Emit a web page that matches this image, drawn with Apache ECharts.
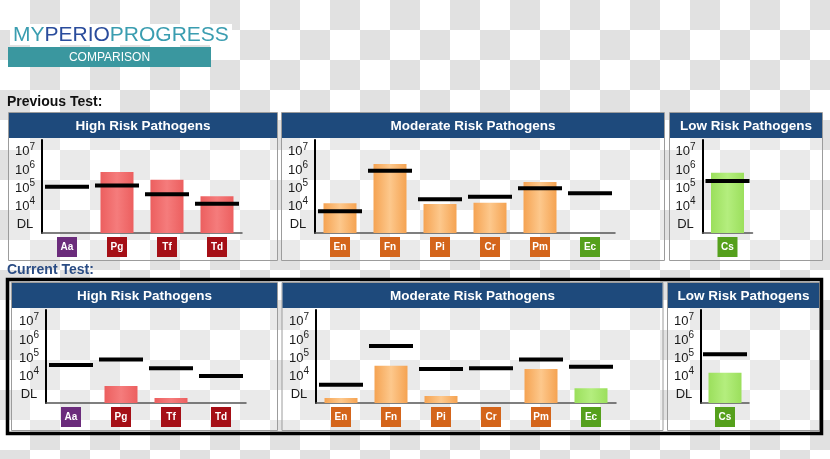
<!DOCTYPE html>
<html><head><meta charset="utf-8">
<script src="https://cdn.jsdelivr.net/npm/echarts@6/dist/echarts.min.js"></script>
<style>
html,body{margin:0;padding:0;}
#c{width:830px;height:459px;background:repeating-conic-gradient(#e1e1e1 0 25%, #ffffff 0 50%) 0 0/60px 60px;}
</style></head><body><div id="c"></div>
<script>
// ---- data ----
const highCats = ['Aa','Pg','Tf','Td'];
const modCats = ['En','Fn','Pi','Cr','Pm','Ec'];
const lowCats = ['Cs'];
const yTickValues = [3,4,5,6,7];
const yTickBase = ['DL','10','10','10','10'];
const yTickExp = ['','4','5','6','7'];
const panelTitles = ['High Risk Pathogens','Moderate Risk Pathogens','Low Risk Pathogens'];
// previous test (log10 counts; bars = measured, lines = reference levels)
const prevHighBars = [null,5.89,5.47,4.56];
const prevHighLines = [5.09,5.16,4.67,4.16];
const prevModBars = [4.18,6.33,4.14,4.21,5.34,null];
const prevModLines = [3.74,5.96,4.40,4.54,5.00,4.73];
const prevLowBars = [5.85];
const prevLowLines = [5.40];
// current test
const curHighBars = [null,3.48,2.82,null];
const curHighLines = [4.63,4.94,4.45,4.03];
const curModBars = [2.82,4.59,2.93,null,4.41,3.36];
const curModLines = [3.55,5.67,4.41,4.45,4.94,4.54];
const curLowBars = [4.21];
const curLowLines = [5.22];

// ---- styles ----
const FONT = "'Liberation Sans', Arial, Helvetica, sans-serif";
const labelBg = {Aa:'#6b2c7c',Pg:'#a50f16',Tf:'#a50f16',Td:'#a50f16',En:'#d4651b',Fn:'#d4651b',Pi:'#d4651b',Cr:'#d4651b',Pm:'#d4651b',Ec:'#55a01c',Cs:'#55a01c'};
function grad(a,b){return new echarts.graphic.LinearGradient(0,0,1,0,[{offset:0,color:a},{offset:0.5,color:b},{offset:1,color:a}]);}
const red = grad('#ec5f5f','#f57c7c'), orange = grad('#f5a352','#fdc88c'), green = grad('#9bdf5c','#b4ee7e');
const barColor = {Aa:red,Pg:red,Tf:red,Td:red,En:orange,Fn:orange,Pi:orange,Cr:orange,Pm:orange,Ec:green,Cs:green};

const sets = [
  [highCats, prevHighBars, prevHighLines],
  [modCats, prevModBars, prevModLines],
  [lowCats, prevLowBars, prevLowLines],
  [highCats, curHighBars, curHighLines],
  [modCats, curModBars, curModLines],
  [lowCats, curLowBars, curLowLines]
];
const gridPos = [
  {left:42, top:140, width:200, height:93},
  {left:315, top:140, width:300, height:93},
  {left:702.5, top:140, width:50, height:93},
  {left:46, top:310, width:200, height:93},
  {left:316, top:310, width:300, height:93},
  {left:701, top:310, width:48, height:93}
];

const xRich = {};
Object.keys(labelBg).forEach(k=>{
  xRich[k] = {backgroundColor:labelBg[k], color:'#fff', fontWeight:'bold', fontSize:10, fontFamily:FONT, width:20, height:20, lineHeight:20, align:'center'};
});

const grid=[], xAxis=[], yAxis=[], series=[];
sets.forEach((s,i)=>{
  const cats=s[0], bars=s[1], lines=s[2];
  grid.push(Object.assign({containLabel:false}, gridPos[i]));
  xAxis.push({type:'category', gridIndex:i, data:cats, boundaryGap:true,
    axisLine:{show:true, lineStyle:{color:'#555', width:1.5}}, axisTick:{show:false},
    axisLabel:{margin:4, interval:0, formatter:v=>'{'+v+'|'+v+'}', rich:xRich},
    splitLine:{show:false}});
  yAxis.push({type:'value', gridIndex:i, min:2.55, max:7.65, startValue:2.55,
    axisLine:{show:true, lineStyle:{color:'#000', width:2}}, axisTick:{show:false},
    splitLine:{show:false},
    axisLabel:{show:true, margin:17, align:'center', customValues:yTickValues,
      formatter:v=>{const k=yTickValues.indexOf(Math.round(v)); if(k<0) return ''; return yTickExp[k]?'{n|'+yTickBase[k]+'}{s|'+yTickExp[k]+'}':'{n|'+yTickBase[k]+'}';},
      rich:{n:{fontSize:13, lineHeight:20, color:'#1a1a1a', fontFamily:FONT}, s:{fontSize:10, lineHeight:8, verticalAlign:'top', color:'#1a1a1a', fontFamily:FONT}}}});
  series.push({type:'bar', xAxisIndex:i, yAxisIndex:i, barWidth:33, clip:true, silent:true,
    data:bars.map((v,j)=>v==null?'-':{value:v, itemStyle:{color:barColor[cats[j]]}})});
  series.push({type:'scatter', xAxisIndex:i, yAxisIndex:i, symbol:'rect', symbolSize:[44,4], silent:true, z:5,
    itemStyle:{color:'#000', opacity:1}, data:lines.map(v=>v==null?'-':v)});
});

const graphic=[];
graphic.push({type:'rect', shape:{x:10,y:24,width:222,height:21}, style:{fill:'#fff'}, z:-20});
graphic.push({type:'text', x:13, y:35, style:{text:'{a|MY}{b|PERIO}{a|PROGRESS}', verticalAlign:'middle', align:'left',
  rich:{a:{fontSize:21, fontFamily:FONT, fill:'#3a9db0', color:'#3a9db0'}, b:{fontSize:21, fontFamily:FONT, fill:'#2a4c9c', color:'#2a4c9c'}}}, z:-19});
graphic.push({type:'rect', shape:{x:8,y:47,width:203,height:20}, style:{fill:'#3a979f'}, z:-20});
graphic.push({type:'text', x:109.5, y:57.5, style:{text:'COMPARISON', fill:'#fff', font:'12px '+FONT, align:'center', verticalAlign:'middle'}, z:-19});
graphic.push({type:'text', x:7, y:102, style:{text:'Previous Test:', fill:'#111', font:'bold 14px '+FONT, align:'left', verticalAlign:'middle'}, z:-19});
graphic.push({type:'text', x:7, y:270, style:{text:'Current Test:', fill:'#2a4c84', font:'bold 14px '+FONT, align:'left', verticalAlign:'middle'}, z:-19});

const panels = [
  {x:8.5,y:112.5,w:269,h:148},{x:281.5,y:112.5,w:383,h:148},{x:669.5,y:112.5,w:153,h:148},
  {x:11.5,y:282.5,w:266,h:148},{x:282,y:282.5,w:381,h:148},{x:667.5,y:282.5,w:152,h:148}
];
panels.forEach((p,i)=>{
  graphic.push({type:'rect', shape:{x:p.x,y:p.y,width:p.w,height:p.h}, style:{fill:'rgba(255,255,255,0.3)', stroke:'#9c9c9c', lineWidth:1}, z:-15});
  graphic.push({type:'rect', shape:{x:p.x+0.5,y:p.y+0.5,width:p.w-1,height:25}, style:{fill:'#1e4a7c'}, z:-14});
  graphic.push({type:'text', x:p.x+p.w/2, y:p.y+13.5, style:{text:panelTitles[i%3], fill:'#fff', font:'bold 13.5px '+FONT, align:'center', verticalAlign:'middle'}, z:-13});
});
graphic.push({type:'rect', shape:{x:7.5,y:279.5,width:814,height:154}, style:{fill:'none', stroke:'#000', lineWidth:3.5}, z:-12});

const chart = echarts.init(document.getElementById('c'), null, {renderer:'canvas'});
chart.setOption({backgroundColor:'transparent', animation:false, grid, xAxis, yAxis, series, graphic});
</script></body></html>
